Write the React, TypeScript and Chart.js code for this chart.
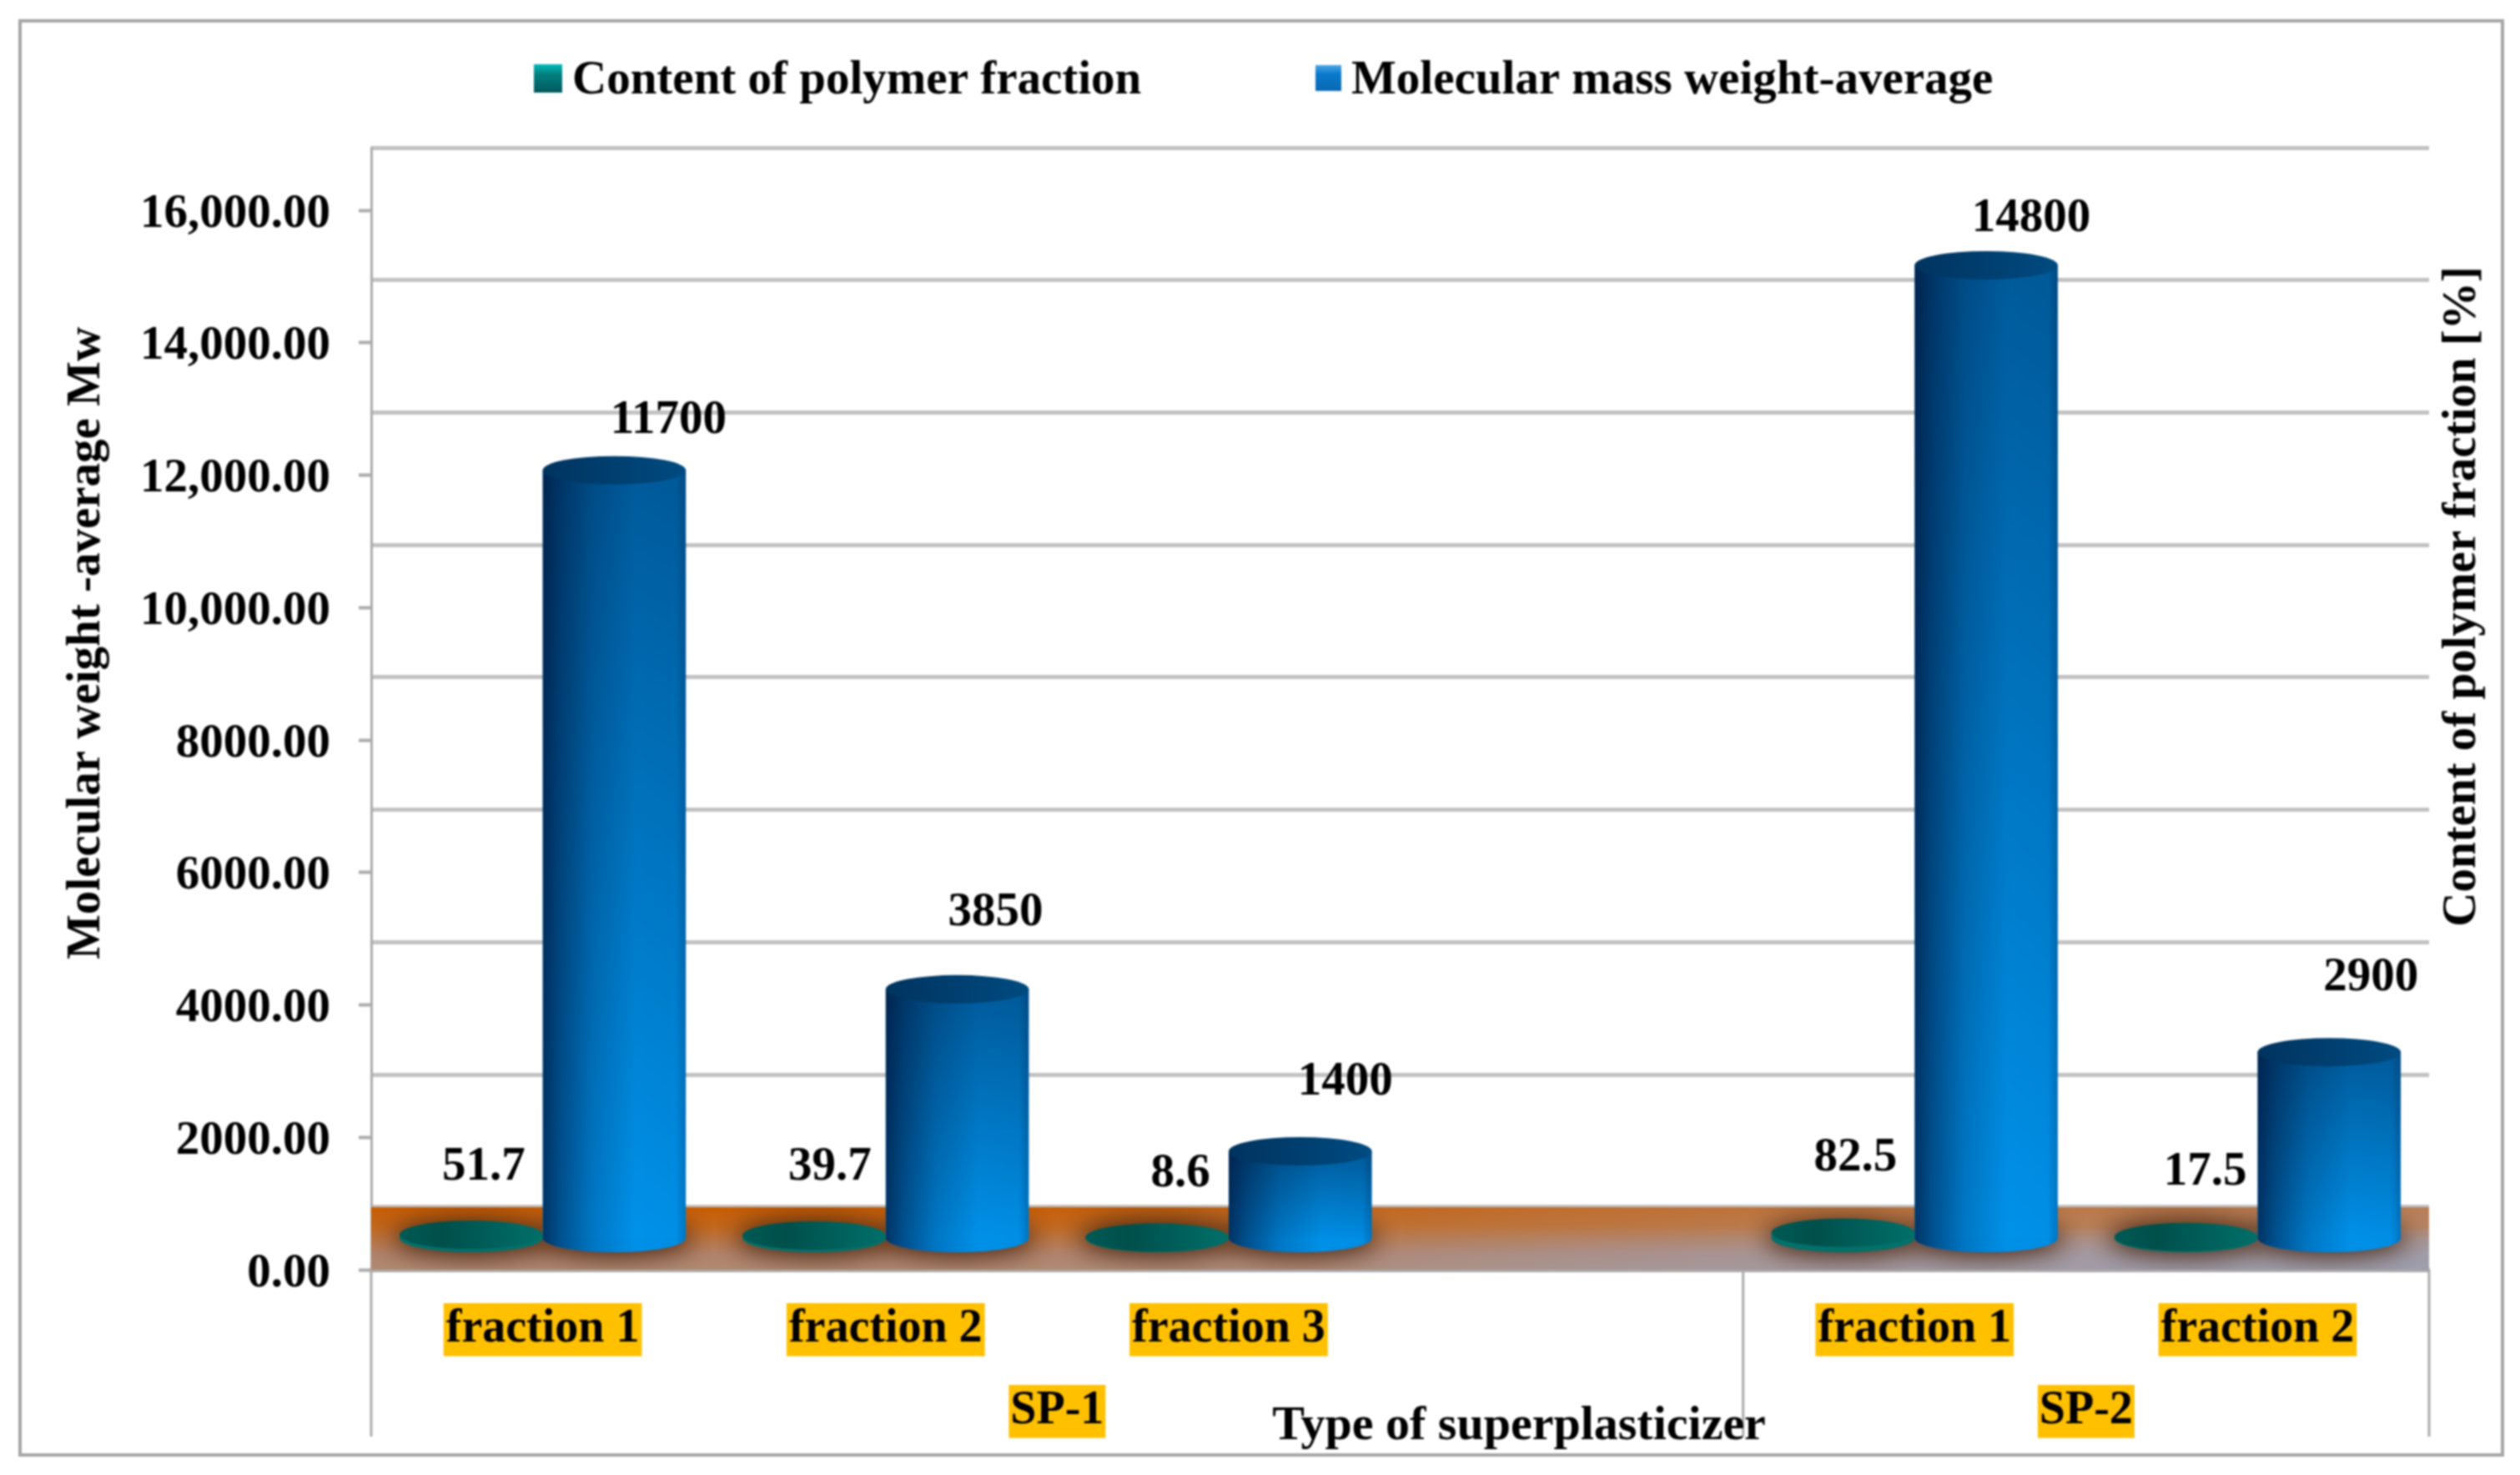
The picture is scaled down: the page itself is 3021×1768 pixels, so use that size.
import React, { useEffect, useRef } from "react";
import { Chart, registerables } from "chart.js";

Chart.register(...registerables);

const categories = ["fraction 1", "fraction 2", "fraction 3", "", "fraction 1", "fraction 2"];
const groupLabels = ["SP-1", "SP-2"];
const groupCentres = [2, 5];
const groupBoundaries = [0, 4, 6];
const polymerContent = [51.7, 39.7, 8.6, null, 82.5, 17.5];
const molecularMass = [11700, 3850, 1400, null, 14800, 2900];
const yTickValues = [0, 2000, 4000, 6000, 8000, 10000, 12000, 14000, 16000];
const seriesNames = ["Content of polymer fraction", "Molecular mass weight-average"];
const yTitle = "Molecular weight -average Mw";
const y2Title = "Content of polymer fraction [%]";
const xTitle = "Type of superplasticizer";

const FONT = '"Liberation Serif", serif';
const F56 = { family: FONT, size: 56, weight: "bold" as const, lineHeight: 1.1 };
const F57 = { family: FONT, size: 57, weight: "bold" as const };
const GRID = "#c2c2c2";
const LINE = "#ababab";
const ORANGE = "#FFC000";

// label offsets relative to the mark (x, y) in px
const massLabelOffset = [[65, -59], [46, -92], [54, -83], null, [54, -56], [50, -89]];
const contentLabelOffset = [[15, -85], [19, -85], [28, -77], null, [15, -96], [23, -79]];

const RY = 17;

function fmt(v: number) {
  const s = v.toFixed(2);
  return v >= 10000 ? s.replace(/^(\d+)(\d{3})\./, "$1,$2.") : s;
}

const scenePlugin = {
  id: "scene",
  beforeDraw(chart: any) {
    const { ctx, width, height } = chart;
    ctx.save();
    ctx.fillStyle = "#fff";
    ctx.fillRect(0, 0, width, height);
    ctx.strokeStyle = "#a6a6a6";
    ctx.lineWidth = 4;
    ctx.strokeRect(24, 25, 2976, 1719);
    ctx.restore();
  },
  beforeDatasetsDraw(chart: any) {
    const { ctx, chartArea: a, scales } = chart;
    const top = scales.y.getPixelForValue(945);
    const bot = a.bottom;
    const W = a.right - a.left;
    ctx.save();
    // floor
    const v = ctx.createLinearGradient(0, top, 0, bot);
    v.addColorStop(0, "#c85c02");
    v.addColorStop(0.3, "#c2661a");
    v.addColorStop(0.75, "#b0826a");
    v.addColorStop(1, "#b08a72");
    ctx.fillStyle = v;
    ctx.fillRect(a.left, top, W, bot - top);
    const h = ctx.createLinearGradient(a.left, 0, a.right, 0);
    h.addColorStop(0.3, "rgba(170,160,170,0)");
    h.addColorStop(0.65, "rgba(170,160,170,0.32)");
    h.addColorStop(1, "rgba(170,160,170,0.5)");
    ctx.fillStyle = h;
    ctx.fillRect(a.left, top, W, bot - top);
    for (let k = 1; k <= 6; k++) {
      const g = ctx.createLinearGradient(a.left, 0, a.right, 0);
      g.addColorStop(0.45, "rgba(155,160,180,0)");
      g.addColorStop(1, "rgba(155,160,180,0.25)");
      ctx.fillStyle = g;
      ctx.fillRect(a.left, bot - k * 8, W, k * 8);
    }
    // shadows on the floor
    ctx.beginPath();
    ctx.rect(a.left, top, W, bot - top);
    ctx.clip();
    const OFF = 6000;
    chart.data.datasets.forEach((_: any, d: number) => {
      chart.getDatasetMeta(d).data.forEach((el: any, i: number) => {
        if (chart.data.datasets[d].data[i] == null) return;
        ctx.save();
        ctx.shadowColor = "rgba(60,28,10,0.9)";
        ctx.shadowBlur = 30;
        ctx.shadowOffsetX = OFF;
        ctx.fillStyle = "#000";
        ctx.beginPath();
        ctx.ellipse(el.x - OFF, el.base, el.width / 2 + 8, RY + 5, 0, 0, Math.PI * 2);
        ctx.fill();
        ctx.restore();
      });
    });
    ctx.restore();
  },
  afterDatasetsDraw(chart: any) {
    const { ctx } = chart;
    // green discs
    chart.getDatasetMeta(0).data.forEach((el: any, i: number) => {
      if (polymerContent[i] == null) return;
      const l = el.x - el.width / 2;
      const r = el.x + el.width / 2;
      const gr = ctx.createLinearGradient(l, 0, r, 0);
      gr.addColorStop(0, "#005a55");
      gr.addColorStop(0.3, "#004f4b");
      gr.addColorStop(1, "#016f69");
      ctx.save();
      ctx.fillStyle = "#03706a";
      ctx.beginPath();
      ctx.ellipse(el.x, el.base, el.width / 2, RY, 0, 0, Math.PI * 2);
      ctx.fill();
      ctx.fillStyle = gr;
      ctx.beginPath();
      ctx.ellipse(el.x, el.y, el.width / 2, RY, 0, 0, Math.PI * 2);
      ctx.fill();
      ctx.restore();
    });
    // blue cylinders
    chart.getDatasetMeta(1).data.forEach((el: any, i: number) => {
      if (molecularMass[i] == null) return;
      const w = el.width;
      const l = el.x - w / 2;
      const r = el.x + w / 2;
      ctx.save();
      ctx.fillStyle = "#0090e8";
      ctx.beginPath();
      ctx.ellipse(el.x, el.base, w / 2, RY, 0, 0, Math.PI);
      ctx.fill();
      ctx.beginPath();
      ctx.rect(l, el.y, w, el.base - el.y);
      ctx.ellipse(el.x, el.base, w / 2, RY, 0, 0, Math.PI);
      ctx.clip();
      const sh = ctx.createLinearGradient(l, 0, r, 0);
      sh.addColorStop(0, "rgba(0,15,50,0.72)");
      sh.addColorStop(0.12, "rgba(0,15,50,0.5)");
      sh.addColorStop(0.35, "rgba(0,15,50,0.2)");
      sh.addColorStop(0.65, "rgba(0,15,50,0)");
      sh.addColorStop(0.93, "rgba(0,15,50,0.02)");
      sh.addColorStop(1, "rgba(0,15,50,0.22)");
      ctx.fillStyle = sh;
      ctx.fillRect(l, el.y, w, el.base - el.y + RY + 2);
      ctx.restore();
      const t = ctx.createLinearGradient(l, 0, r, 0);
      t.addColorStop(0, "#00345f");
      t.addColorStop(0.5, "#003f70");
      t.addColorStop(1, "#004b80");
      ctx.save();
      ctx.fillStyle = t;
      ctx.beginPath();
      ctx.ellipse(el.x, el.y, w / 2, RY, 0, 0, Math.PI * 2);
      ctx.fill();
      ctx.restore();
    });
  },
  afterDraw(chart: any) {
    const { ctx, chartArea: a, scales } = chart;
    ctx.save();
    ctx.strokeStyle = LINE;
    ctx.lineWidth = 3;
    // group separators below the axis, and the left axis extension
    groupBoundaries.forEach((v: number) => {
      const x = scales.x2.getPixelForValue(v);
      ctx.beginPath();
      ctx.moveTo(x, a.bottom);
      ctx.lineTo(x, 1722);
      ctx.stroke();
    });
    ctx.fillStyle = "#000";
    ctx.font = `bold 57px ${FONT}`;
    ctx.textBaseline = "middle";
    // value labels
    ctx.textAlign = "center";
    chart.getDatasetMeta(1).data.forEach((el: any, i: number) => {
      const o = massLabelOffset[i];
      if (molecularMass[i] == null || !o) return;
      ctx.fillText(String(molecularMass[i]), el.x + o[0], el.y + o[1]);
    });
    chart.getDatasetMeta(0).data.forEach((el: any, i: number) => {
      const o = contentLabelOffset[i];
      if (polymerContent[i] == null || !o) return;
      ctx.fillText(String(polymerContent[i]), el.x + o[0], el.base + o[1]);
    });
    // axis titles
    ctx.save();
    ctx.translate(104, 771);
    ctx.rotate(-Math.PI / 2);
    ctx.fillText(yTitle, 0, 0);
    ctx.restore();
    ctx.save();
    ctx.translate(2952, 715);
    ctx.rotate(-Math.PI / 2);
    ctx.fillText(y2Title, 0, 0);
    ctx.restore();
    ctx.font = `bold 58px ${FONT}`;
    ctx.fillText(xTitle, 1821, 1710);
    // legend
    ctx.font = `bold 57px ${FONT}`;
    ctx.textAlign = "left";
    const lg = [
      { bx: 640, by: 77, s: 34, tx: 686, c: ["#04bcbc", "#02807f", "#01595c"] },
      { bx: 1577, by: 78, s: 31, tx: 1620, c: ["#4aa8e6", "#0a7acb", "#0868b4"] },
    ];
    lg.forEach((it, i) => {
      const gr = ctx.createLinearGradient(0, it.by, 0, it.by + it.s);
      gr.addColorStop(0, it.c[0]);
      gr.addColorStop(0.35, it.c[1]);
      gr.addColorStop(1, it.c[2]);
      ctx.fillStyle = gr;
      ctx.fillRect(it.bx, it.by, it.s, it.s);
      ctx.fillStyle = "#000";
      ctx.fillText(seriesNames[i], it.tx, 97);
    });
    ctx.restore();
  },
};

function blueFill(c: any) {
  const chart = c.chart;
  const s = chart.scales.yBars;
  if (!chart.chartArea || !s || c.raw == null) return "#0078c8";
  const g = chart.ctx.createLinearGradient(0, s.getPixelForValue(c.raw), 0, s.getPixelForValue(0));
  g.addColorStop(0, "#005a9a");
  g.addColorStop(1, "#0092ea");
  return g;
}

export default function App() {
  const ref = useRef<HTMLCanvasElement>(null);
  useEffect(() => {
    document.body.style.margin = "0";
    const chart = new Chart(ref.current as HTMLCanvasElement, {
      type: "bar",
      data: {
        labels: categories,
        datasets: [
          { label: seriesNames[0], data: polymerContent, yAxisID: "yContent", xAxisID: "x", backgroundColor: "#03706a", categoryPercentage: 0.835, barPercentage: 1 },
          { label: seriesNames[1], data: molecularMass, yAxisID: "yBars", xAxisID: "x", base: 88, backgroundColor: blueFill, categoryPercentage: 0.835, barPercentage: 1 },
        ],
      } as any,
      options: {
        responsive: false,
        animation: false,
        devicePixelRatio: 1,
        layout: { padding: { left: 0, right: 109, top: 177, bottom: 0 } },
        plugins: { legend: { display: false }, tooltip: { enabled: false }, title: { display: false } },
        scales: {
          x: {
            type: "category",
            position: "bottom",
            weight: 0,
            grid: { display: false, drawOnChartArea: false, drawTicks: false },
            border: { display: true, color: LINE, width: 5 },
            ticks: {
              font: F56,
              color: "#000",
              padding: 41,
              autoSkip: false,
              maxRotation: 0,
              showLabelBackdrop: (c: any) => categories[c.index] !== "",
              backdropColor: ORANGE,
              backdropPadding: { x: 3, y: 1 },
            },
            afterFit: (s: any) => { s.height = 135; },
          },
          x2: {
            type: "linear",
            position: "bottom",
            weight: 1,
            offset: false,
            min: 0,
            max: 6,
            grid: { display: false, drawTicks: false },
            border: { display: false },
            afterBuildTicks: (s: any) => { s.ticks = groupCentres.map((value) => ({ value })); },
            ticks: {
              font: F56,
              color: "#000",
              padding: 4,
              autoSkip: false,
              maxRotation: 0,
              callback: (v: any) => groupLabels[groupCentres.indexOf(v)] ?? "",
              showLabelBackdrop: true,
              backdropColor: ORANGE,
              backdropPadding: { x: 2, y: 1 },
            },
            afterFit: (s: any) => { s.height = 111; },
          },
          y: {
            type: "linear",
            position: "left",
            min: 0,
            max: 16945,
            afterBuildTicks: (s: any) => { s.ticks = yTickValues.map((value) => ({ value })); },
            grid: { drawOnChartArea: false, drawTicks: true, tickLength: 15, tickColor: LINE, tickWidth: 4 },
            border: { display: true, color: LINE, width: 3 },
            ticks: {
              font: F57,
              color: "#000",
              padding: 34,
              labelOffset: 5,
              callback: (v: any) => fmt(Number(v)),
            },
            afterFit: (s: any) => { s.width = 445; },
          },
          y2: {
            type: "linear",
            position: "right",
            min: -945,
            max: 16000,
            afterBuildTicks: (s: any) => { s.ticks = yTickValues.map((value) => ({ value })); },
            grid: { color: GRID, lineWidth: 5, drawTicks: false },
            border: { display: false },
            ticks: { display: false },
            afterFit: (s: any) => { s.width = 0; },
          },
          yBars: { type: "linear", display: false, min: -391, max: 16578 },
          yContent: { type: "linear", display: false, min: -482, max: 16590 },
        },
      } as any,
      plugins: [scenePlugin],
    });
    return () => chart.destroy();
  }, []);
  return <canvas ref={ref} width={3021} height={1768} style={{ display: "block", filter: "blur(1px)" }} />;
}
